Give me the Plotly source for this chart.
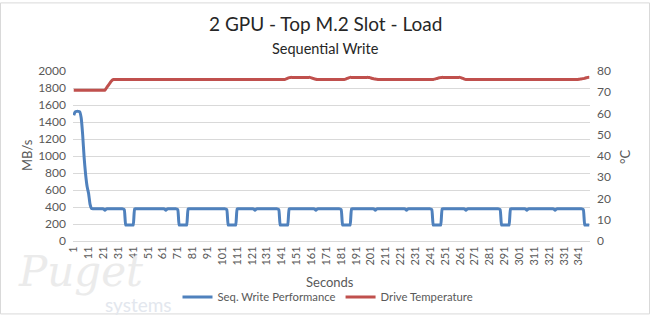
import plotly.graph_objects as go

# ---------------- data ----------------
write_perf = [
    1480, 1520, 1525, 1525, 1520, 1450, 1250, 980, 780, 640,
    560, 430, 380, 378, 378, 378, 378, 378, 378, 378,
    378, 362, 378, 378, 378, 378, 378, 378, 378, 378,
    378, 378, 378, 378, 370, 188, 188, 188, 188, 188,
    188, 378, 378, 378, 378, 378, 378, 378, 378, 378,
    378, 378, 378, 378, 378, 378, 378, 378, 378, 378,
    378, 378, 362, 378, 378, 378, 378, 378, 378, 378,
    370, 188, 188, 188, 188, 188, 188, 378, 378, 378,
    378, 378, 378, 378, 378, 378, 378, 378, 378, 378,
    378, 378, 378, 378, 378, 378, 378, 378, 378, 378,
    378, 378, 378, 370, 188, 188, 188, 188, 188, 188,
    378, 378, 378, 378, 378, 378, 378, 378, 378, 378,
    378, 378, 362, 378, 378, 378, 378, 378, 378, 378,
    378, 378, 378, 378, 378, 378, 378, 378, 370, 188,
    188, 188, 188, 188, 188, 378, 378, 378, 378, 378,
    378, 378, 378, 378, 378, 378, 378, 378, 378, 378,
    378, 378, 378, 362, 378, 378, 378, 378, 378, 378,
    378, 378, 378, 378, 378, 378, 378, 378, 378, 378,
    370, 188, 188, 188, 188, 188, 188, 378, 378, 378,
    378, 378, 378, 378, 378, 378, 378, 378, 378, 378,
    378, 378, 378, 362, 378, 378, 378, 378, 378, 378,
    378, 378, 378, 378, 378, 378, 378, 378, 378, 378,
    378, 378, 378, 378, 362, 378, 378, 378, 378, 378,
    378, 378, 378, 378, 378, 378, 378, 378, 378, 378,
    378, 370, 188, 188, 188, 188, 188, 188, 378, 378,
    378, 378, 378, 378, 378, 378, 378, 378, 378, 378,
    378, 378, 378, 378, 362, 378, 378, 378, 378, 378,
    378, 378, 378, 378, 378, 378, 378, 378, 378, 378,
    378, 378, 378, 378, 378, 378, 378, 370, 188, 188,
    188, 188, 188, 188, 378, 378, 378, 378, 378, 378,
    378, 378, 378, 378, 378, 362, 378, 378, 378, 378,
    378, 378, 378, 378, 378, 378, 378, 378, 378, 378,
    378, 378, 378, 378, 362, 378, 378, 378, 378, 378,
    378, 378, 378, 378, 378, 378, 378, 378, 378, 378,
    378, 378, 378, 370, 188, 188, 188, 188,
]

drive_temp = [
    71, 71, 71, 71, 71, 71, 71, 71, 71, 71,
    71, 71, 71, 71, 71, 71, 71, 71, 71, 71,
    71, 71, 72, 73, 74, 75, 75.8, 76, 76, 76,
    76, 76, 76, 76, 76, 76, 76, 76, 76, 76,
    76, 76, 76, 76, 76, 76, 76, 76, 76, 76,
    76, 76, 76, 76, 76, 76, 76, 76, 76, 76,
    76, 76, 76, 76, 76, 76, 76, 76, 76, 76,
    76, 76, 76, 76, 76, 76, 76, 76, 76, 76,
    76, 76, 76, 76, 76, 76, 76, 76, 76, 76,
    76, 76, 76, 76, 76, 76, 76, 76, 76, 76,
    76, 76, 76, 76, 76, 76, 76, 76, 76, 76,
    76, 76, 76, 76, 76, 76, 76, 76, 76, 76,
    76, 76, 76, 76, 76, 76, 76, 76, 76, 76,
    76, 76, 76, 76, 76, 76, 76, 76, 76, 76,
    76, 76, 76, 76.3, 76.6, 76.9, 77, 77, 77, 77,
    77, 77, 77, 77, 77, 77, 77, 77, 77, 77,
    76.8, 76.5, 76.3, 76.1, 76, 76, 76, 76, 76, 76,
    76, 76, 76, 76, 76, 76, 76, 76, 76, 76,
    76, 76, 76, 76.2, 76.5, 76.8, 77, 77, 77, 77,
    77, 77, 77, 77, 77, 77, 77, 77, 77, 76.9,
    76.7, 76.5, 76.3, 76.2, 76.1, 76, 76, 76, 76, 76,
    76, 76, 76, 76, 76, 76, 76, 76, 76, 76,
    76, 76, 76, 76, 76, 76, 76, 76, 76, 76,
    76, 76, 76, 76, 76, 76, 76, 76, 76, 76,
    76, 76, 76, 76.2, 76.4, 76.6, 76.8, 76.9, 77, 77,
    77, 77, 77, 77, 77, 77, 77, 77, 77, 77,
    77, 76.8, 76.5, 76.2, 76, 76, 76, 76, 76, 76,
    76, 76, 76, 76, 76, 76, 76, 76, 76, 76,
    76, 76, 76, 76, 76, 76, 76, 76, 76, 76,
    76, 76, 76, 76, 76, 76, 76, 76, 76, 76,
    76, 76, 76, 76, 76, 76, 76, 76, 76, 76,
    76, 76, 76, 76, 76, 76, 76, 76, 76, 76,
    76, 76, 76, 76, 76, 76, 76, 76, 76, 76,
    76, 76, 76, 76, 76, 76, 76, 76, 76, 76,
    76.1, 76.2, 76.3, 76.4, 76.6, 76.8, 77, 77,
]

seconds = list(range(1, len(write_perf) + 1))
x_tick_values = seconds[::10]
x_tick_labels = [str(s) for s in x_tick_values]

series_names = ["Seq. Write Performance", "Drive Temperature"]
title_text = "2 GPU - Top M.2 Slot - Load"
subtitle_text = "Sequential Write"

# ---------------- layout helpers ----------------
W, H = 650, 323
ML, MR, MT, MB = 73, 60, 71, 76
PW, PH = W - ML - MR, H - MT - MB


def px_x(px):
    return (px - ML) / PW


def px_y(py):
    return (H - MB - py) / PH


FONT = "Lato"
BLUE = "#4F81BD"
RED = "#C0504D"
GRID = "#D9D9D9"
TICK = "#595959"

fig = go.Figure()
fig.add_trace(go.Scatter(
    x=seconds, y=write_perf, name=series_names[0], mode="lines",
    line=dict(color=BLUE, width=3, shape="spline", smoothing=0.5),
    yaxis="y",
))
fig.add_trace(go.Scatter(
    x=seconds, y=drive_temp, name=series_names[1], mode="lines",
    line=dict(color=RED, width=3, shape="spline", smoothing=0.5),
    yaxis="y2",
))

fig.update_layout(
    width=W, height=H,
    margin=dict(l=ML, r=MR, t=MT, b=MB, pad=0),
    paper_bgcolor="white", plot_bgcolor="white",
    font=dict(family=FONT, color=TICK, size=12),
    showlegend=True,
    legend=dict(
        orientation="h", x=px_x(328), xanchor="center",
        y=px_y(305), yanchor="middle",
        font=dict(family=FONT, size=11.3, color=TICK),
        itemwidth=30, tracegroupgap=0, bgcolor="rgba(0,0,0,0)",
    ),
    xaxis=dict(
        range=[0.5, len(seconds) + 0.5],
        tickmode="array", tickvals=x_tick_values, ticktext=x_tick_labels,
        tickangle=-90, ticks="", showgrid=False, zeroline=False,
        showline=True, linecolor=GRID, linewidth=1,
        tickfont=dict(family=FONT, size=11, color=TICK),
    ),
    yaxis=dict(
        range=[0, 2000], dtick=200, tick0=0, ticks="",
        showgrid=True, gridcolor=GRID, gridwidth=1, zeroline=False,
        showline=False,
        tickfont=dict(family=FONT, size=12, color=TICK),
        ticklabelstandoff=6,
    ),
    yaxis2=dict(
        range=[0, 80], dtick=10, tick0=0, ticks="",
        overlaying="y", side="right",
        showgrid=False, zeroline=False, showline=False,
        tickfont=dict(family=FONT, size=12, color=TICK),
        ticklabelstandoff=6,
    ),
)

annotations = [
    dict(text=title_text, x=px_x(325), y=px_y(22),
         font=dict(family=FONT, size=19, color="#262626")),
    dict(text=subtitle_text, x=px_x(325), y=px_y(48),
         font=dict(family=FONT, size=14.5, color="#262626")),
    dict(text="Seconds", x=px_x(330), y=px_y(289),
         font=dict(family=FONT, size=13, color=TICK)),
    dict(text="MB/s", x=px_x(27), y=px_y(158), textangle=-90,
         font=dict(family=FONT, size=13, color=TICK)),
    dict(text="°C", x=px_x(625), y=px_y(160), textangle=-90,
         font=dict(family=FONT, size=13, color=TICK)),
    dict(text="Puget", x=px_x(80), y=px_y(279),
         font=dict(family="DejaVu Serif", size=42, color="#EBEBEB", style="italic")),
    dict(text="systems", x=px_x(138), y=px_y(313),
         font=dict(family=FONT, size=19, color="#E3E7EE")),
]
for a in annotations:
    a.update(xref="paper", yref="paper", showarrow=False,
             xanchor="center", yanchor="middle")
fig.update_layout(annotations=annotations)

fig.add_shape(type="rect", xref="paper", yref="paper",
              x0=px_x(0.5), x1=px_x(W - 0.5), y0=px_y(H - 0.5), y1=px_y(0.5),
              line=dict(color=GRID, width=1), layer="below")

fig.write_html("out.html")
